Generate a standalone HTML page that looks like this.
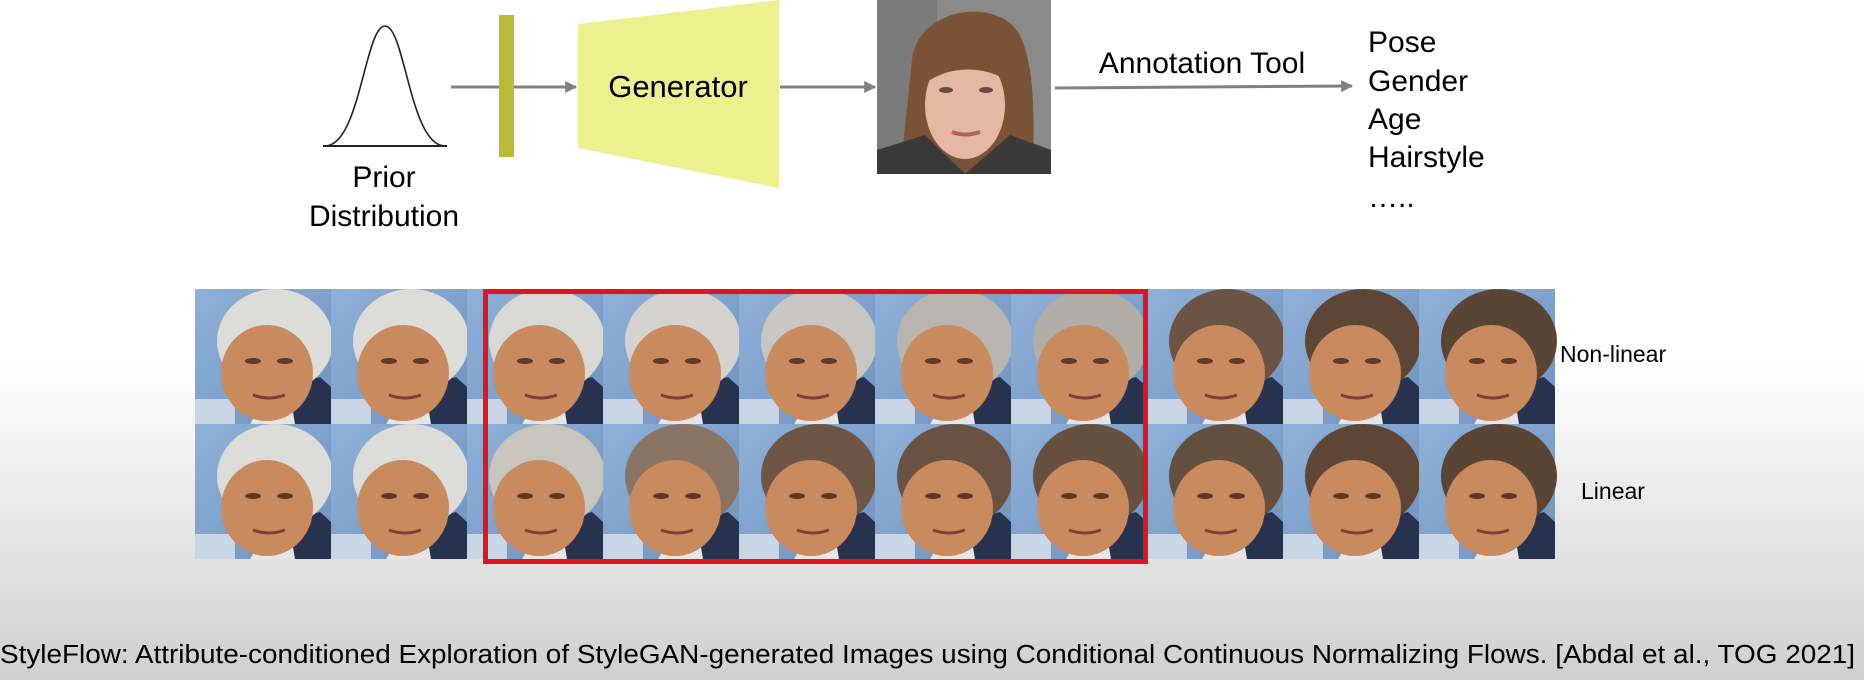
<!DOCTYPE html>
<html><head><meta charset="utf-8"><style>
html,body{margin:0;padding:0;}
body{width:1864px;height:680px;overflow:hidden;background:#fff;}
svg{display:block;font-family:"Liberation Sans",sans-serif;}
</style></head><body>
<svg width="1864" height="680" viewBox="0 0 1864 680" xmlns="http://www.w3.org/2000/svg">
<defs>
<linearGradient id="bg" x1="0" y1="0" x2="0" y2="1">
<stop offset="0" stop-color="#ffffff"/>
<stop offset="0.53" stop-color="#ffffff"/>
<stop offset="1" stop-color="#cfcfcf"/>
</linearGradient>
<marker id="ah" viewBox="0 0 10 10" refX="9" refY="5" markerWidth="4" markerHeight="4" orient="auto"><path d="M0,0L10,5L0,10z" fill="#808080"/></marker>
<linearGradient id="cellbg" x1="0" y1="0" x2="1" y2="1"><stop offset="0" stop-color="#8fb1d8"/><stop offset="1" stop-color="#6f93bf"/></linearGradient>
</defs>
<rect width="1864" height="680" fill="url(#bg)"/>

<line x1="323" y1="146" x2="447" y2="146" stroke="#222" stroke-width="2"/>
<path d="M325,146 C360,146 365,26 385,26 C405,26 410,146 445,146" fill="none" stroke="#222" stroke-width="1.6"/>
<text x="384" y="187" font-size="30" text-anchor="middle">Prior</text>
<text x="384" y="226" font-size="30" text-anchor="middle">Distribution</text>

<line x1="451" y1="87" x2="576" y2="87" stroke="#808080" stroke-width="3" marker-end="url(#ah)"/>
<rect x="499" y="15" width="15" height="142" fill="#b8bb33"/>
<polygon points="578,24 779,0 779,188 578,148" fill="#ecf08e"/>
<text x="678" y="97" font-size="31" text-anchor="middle">Generator</text>
<line x1="780" y1="87" x2="875" y2="87" stroke="#808080" stroke-width="3" marker-end="url(#ah)"/>

<g>
<rect x="877" y="0" width="174" height="174" fill="#8a8a8a"/>
<rect x="877" y="0" width="60" height="174" fill="#7b7b7b"/>
<path d="M900,174 L912,60 C918,5 1005,-5 1022,40 C1038,80 1032,140 1034,174 Z" fill="#7a5236"/>
<ellipse cx="965" cy="105" rx="40" ry="54" fill="#e3b9a4"/>
<path d="M922,85 C925,25 1010,25 1010,85 L1003,78 C980,66 950,66 927,82 Z" fill="#7a5236"/>
<path d="M877,150 L925,135 L965,174 L1010,135 L1051,150 L1051,174 L877,174Z" fill="#3a3a3a"/>
<ellipse cx="946" cy="90" rx="7" ry="3" fill="#6a4a40"/>
<ellipse cx="986" cy="90" rx="7" ry="3" fill="#6a4a40"/>
<path d="M952,132 Q965,137 980,132" stroke="#b36060" stroke-width="4" fill="none"/>
</g>

<line x1="1055" y1="88" x2="1352" y2="86" stroke="#808080" stroke-width="3" marker-end="url(#ah)"/>
<text x="1202" y="73" font-size="30" text-anchor="middle">Annotation Tool</text>
<g font-size="30">
<text x="1368" y="52">Pose</text>
<text x="1368" y="91">Gender</text>
<text x="1368" y="129">Age</text>
<text x="1368" y="167">Hairstyle</text>
<text x="1368" y="207">…..</text>
</g>

<g id="grid"></g>
<rect x="485.5" y="291.5" width="660" height="270" fill="none" stroke="#e0141e" stroke-width="5"/>
<text x="1560" y="362" font-size="23">Non-linear</text>
<text x="1581" y="499" font-size="23">Linear</text>

<text x="0" y="663" font-size="25.5" textLength="1855" lengthAdjust="spacingAndGlyphs">StyleFlow: Attribute-conditioned Exploration of StyleGAN-generated Images using Conditional Continuous Normalizing Flows. [Abdal et al., TOG 2021]</text>
</svg>
<script>
(function(){
var g=document.getElementById('grid');
var top=['#dcdcd8','#dcdcd8','#d8d8d4','#d4d2ce','#c8c6c2','#b8b4ae','#b0aca6','#6b5444','#5e4636','#5a4434'];
var bot=['#dcdcd8','#dcdcd8','#c8c4be','#8a7464','#6e5646','#6a5242','#66503f','#64503f','#5e4636','#5a4434'];
function cell(x,y,hat){
 return '<g transform="translate('+x+','+y+')">'+
 '<rect width="136" height="135" fill="url(#cellbg)"/>'+
 '<rect y="110" width="40" height="25" fill="#c9d6e6"/>'+
 '<path d="M80,135 L100,95 L125,88 L136,98 L136,135Z" fill="#27324e"/>'+
 '<path d="M55,135 L70,110 L95,105 L100,135Z" fill="#e6e6e6"/>'+
 '<ellipse cx="80" cy="52" rx="58" ry="52" fill="'+hat+'"/>'+
 '<ellipse cx="72" cy="84" rx="46" ry="48" fill="#c98a5e"/>'+
 '<ellipse cx="58" cy="72" rx="8" ry="3" fill="#5a3a2c"/><ellipse cx="90" cy="72" rx="8" ry="3" fill="#5a3a2c"/>'+
 '<path d="M58,106 Q74,112 90,106" stroke="#7a4034" stroke-width="3" fill="none"/>'+
 '</g>';
}
var h='';
for(var i=0;i<10;i++){h+=cell(195+i*136,289,top[i]);h+=cell(195+i*136,424,bot[i]);}
g.innerHTML=h;
})();
</script>
</body></html>
